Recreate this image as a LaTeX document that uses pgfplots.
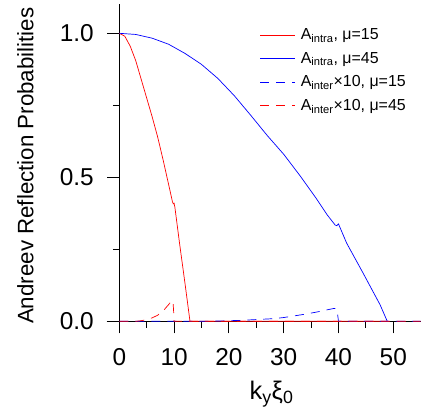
\documentclass[border=0pt]{standalone}
\usepackage{pgfplots}
\pgfplotsset{compat=1.18}
\usepackage{fontspec}
\setmainfont{Liberation Sans}

% A_intra, mu=15
\pgfplotstableread{
x y
0 1.0
1 0.99
2 0.955
3 0.905
4 0.84
5 0.775
6 0.71
7 0.64
8 0.56
9 0.475
9.7 0.415
9.85 0.408
10.0 0.41
10.15 0.395
11 0.27
12 0.13
12.9 0.0
49 0.0
}\intraA

% A_intra, mu=45
\pgfplotstableread{
x y
0 1.0
3 0.996
6 0.983
9 0.962
12 0.930
15 0.892
18 0.843
21 0.783
24 0.715
27 0.645
30 0.580
33 0.505
36 0.425
38 0.368
39.4 0.334
39.7 0.332
40.0 0.338
41.5 0.271
44.5 0.167
47.6 0.057
48.9 0.0
}\intraB

% A_inter x10, mu=15
\pgfplotstableread{
x y
0 0
15 0
18 0.001
20 0.002
22 0.003
24 0.005
26 0.007
28 0.009
30 0.013
32 0.019
34 0.025
36 0.032
37.5 0.038
39 0.044
39.5 0.045
39.8 0.030
40 0.0
55 0.0
}\interA

% A_inter x10, mu=45
\pgfplotstableread{
x y
0 0
3 0
4 0.002
5 0.006
6 0.012
7 0.021
8 0.036
9 0.058
9.6 0.072
9.8 0.068
9.9 0.040
10 0.0
55 0.0
}\interB

\begin{document}
\begin{tikzpicture}
\begin{axis}[
  scale only axis,
  width=314bp, height=316.8bp,
  axis lines=middle,
  axis line style={-, line width=1bp},
  hide obscured x ticks=false,
  hide obscured y ticks=false,
  xmin=-2.3, xmax=55,
  ymin=0, ymax=1.1,
  xtick={0,10,...,50},
  ytick={0,0.5,1},
  minor x tick num=1,
  minor y tick num=1,
  tick align=outside,
  major tick length=12bp,
  minor tick length=6.5bp,
  tick style={line width=1bp, black},
  tick label style={font=\fontsize{24.5}{29}\selectfont},
  /pgf/number format/assume math mode=true,
  yticklabel style={/pgf/number format/fixed, /pgf/number format/fixed zerofill, /pgf/number format/precision=1, xshift=-10bp},
  xticklabel style={yshift=-12bp},
  xlabel={k\textsubscript{y}ξ\textsubscript{0}},
  xlabel style={at={(axis description cs:0.525,0)}, anchor=north, inner sep=0pt, yshift=-60bp, font=\fontsize{25.5}{30}\selectfont},
  ylabel={Andreev Reflection Probabilities},
  ylabel style={at={(axis description cs:-0.286,0.491)}, anchor=north, rotate=90, inner sep=0pt, font=\fontsize{22.4}{27}\selectfont},
  legend cell align=left,
  legend image code/.code={\draw[#1] (0bp,0bp) -- (35bp,0bp);},
  legend style={draw=none, at={(axis description cs:0.488,0.93)}, anchor=north west,
    font=\fontsize{16}{19}\selectfont, text=black, row sep=7bp, inner sep=0pt,
    /tikz/every odd column/.append style={column sep=3bp}},
]
\addplot[draw=red, line width=0.7bp] table {\intraA};
\addlegendentry{A\textsubscript{intra}, μ=15}
\addplot[draw=blue, line width=0.7bp] table {\intraB};
\addlegendentry{A\textsubscript{intra}, μ=45}
\addplot[draw=blue, line width=0.7bp, dash pattern=on 9bp off 7bp] table {\interA};
\addlegendentry{A\textsubscript{inter}×10, μ=15}
\addplot[draw=red, line width=0.7bp, dash pattern=on 9bp off 7bp] table {\interB};
\addlegendentry{A\textsubscript{inter}×10, μ=45}
\coordinate (bbsw) at (rel axis cs:-0.3398,-0.3021);
\coordinate (bbne) at (rel axis cs:1.001,1.0142);
\end{axis}
\pgfresetboundingbox
\path[use as bounding box] (bbsw) rectangle (bbne);
\end{tikzpicture}
\end{document}
